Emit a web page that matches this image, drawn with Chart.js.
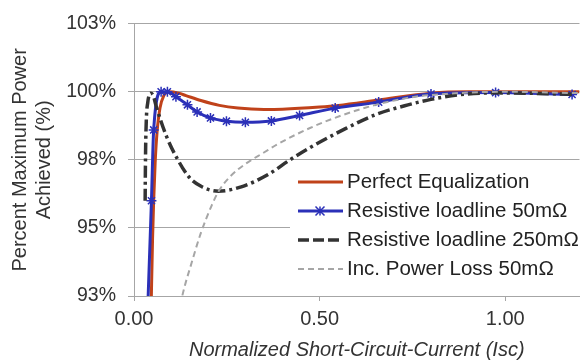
<!DOCTYPE html>
<html>
<head>
<meta charset="utf-8">
<script src="https://cdn.jsdelivr.net/npm/chart.js@4/dist/chart.umd.min.js"></script>
<style>
  html, body { margin: 0; padding: 0; background: #fff; }
  #wrap { width: 586px; height: 362px; }
</style>
</head>
<body>
<div id="wrap"><canvas id="myChart" width="586" height="362"></canvas></div>
<script>
// values (x = normalized Isc, y = percent of max power)
let perfectX = [0.046, 0.05, 0.053, 0.057, 0.062, 0.07, 0.08, 0.095, 0.12, 0.14, 0.18, 0.23, 0.28, 0.35, 0.40, 0.50, 0.55, 0.66, 0.80, 0.90, 1.00, 1.20];
let perfectY = [92.0, 94.6, 96.0, 97.4, 98.5, 99.4, 99.85, 100.0, 99.95, 99.86, 99.68, 99.5, 99.4, 99.35, 99.36, 99.44, 99.5, 99.7, 99.95, 100.0, 100.0, 100.0];

let r50X = [0.033, 0.047, 0.053, 0.073, 0.09, 0.113, 0.144, 0.17, 0.206, 0.249, 0.30, 0.37, 0.446, 0.542, 0.659, 0.80, 0.974, 1.18];
let r50Y = [90.5, 96.0, 98.6, 100.0, 100.0, 99.82, 99.52, 99.26, 99.04, 98.92, 98.88, 98.93, 99.13, 99.40, 99.62, 99.92, 99.97, 99.9];

let r250X = [0.030, 0.031, 0.033, 0.037, 0.045, 0.052, 0.06, 0.087, 0.117, 0.148, 0.183, 0.228, 0.289, 0.36, 0.42, 0.474, 0.563, 0.651, 0.738, 0.80, 0.87, 0.974, 1.18];
let r250Y = [96.0, 97.6, 98.9, 99.6, 99.95, 99.85, 99.46, 98.38, 97.53, 96.87, 96.51, 96.35, 96.51, 96.95, 97.5, 97.95, 98.6, 99.16, 99.52, 99.72, 99.88, 99.96, 99.91];

let lossX = [0.12, 0.13, 0.157, 0.179, 0.21, 0.228, 0.26, 0.30, 0.35, 0.386, 0.474, 0.563, 0.651, 0.757, 0.80, 0.90, 1.0, 1.2];
let lossY = [91.8, 92.5, 93.8, 94.77, 95.85, 96.35, 96.9, 97.35, 97.77, 98.07, 98.67, 99.15, 99.52, 99.82, 99.88, 99.97, 100.0, 99.95];

let xTicks = [0, 0.5, 1.0];
let yTicks = [92.5, 95, 97.5, 100, 102.5];

let seriesLabels = ['Perfect Equalization', 'Resistive loadline 50m\u03A9', 'Resistive loadline 250m\u03A9', 'Inc. Power Loss 50m\u03A9'];

const FONT = '"Liberation Sans", Arial, sans-serif';

function pts(xs, ys) {
    return xs.map((x, i) => ({ x: x, y: ys[i] }));
}

let ctx = document.getElementById('myChart');

// legend drawn inside the plot, like the original
const legendBox = {
    id: 'legendBox',
    afterDraw(chart) {
        const c = chart.ctx;
        c.save();
        c.fillStyle = '#fff';
        c.fillRect(290, 167, 296, 117);
        c.font = '20.5px ' + FONT;
        c.textBaseline = 'middle';
        c.textAlign = 'left';
        chart.data.datasets.forEach((ds, i) => {
            let y = 182 + i * 29;
            c.strokeStyle = ds.borderColor;
            c.lineWidth = ds.borderWidth;
            c.setLineDash(ds.legendDash || ds.borderDash || []);
            c.beginPath();
            c.moveTo(298, y);
            c.lineTo(343, y);
            c.stroke();
            c.setLineDash([]);
            if (ds.pointRadius > 0) {
                let r = 4.5, mx = 320;
                c.lineWidth = 1.5;
                c.beginPath();
                c.moveTo(mx - r, y - r); c.lineTo(mx + r, y + r);
                c.moveTo(mx - r, y + r); c.lineTo(mx + r, y - r);
                c.moveTo(mx, y - r); c.lineTo(mx, y + r);
                c.stroke();
            }
            c.fillStyle = '#222';
            c.fillText(ds.label, 347, y);
        });
        c.restore();
    }
};

const myChart = new Chart(ctx, {
    type: 'line',
    data: {
        datasets: [
            {
                label: seriesLabels[0],
                data: pts(perfectX, perfectY),
                borderColor: '#C0421A',
                borderWidth: 3,
                pointRadius: 0,
                cubicInterpolationMode: 'monotone',
                order: 4
            },
            {
                label: seriesLabels[1],
                data: pts(r50X, r50Y),
                borderColor: '#2B30B8',
                borderWidth: 3,
                pointStyle: 'star',
                pointRadius: 5,
                pointBorderWidth: 1.5,
                pointBorderColor: '#2B30B8',
                cubicInterpolationMode: 'monotone',
                order: 3
            },
            {
                label: seriesLabels[2],
                data: pts(r250X, r250Y),
                borderColor: '#333333',
                borderWidth: 3.5,
                borderDash: [12, 4, 3, 4],
                legendDash: [11, 4],
                pointRadius: 0,
                cubicInterpolationMode: 'monotone',
                order: 2
            },
            {
                label: seriesLabels[3],
                data: pts(lossX, lossY),
                borderColor: '#A6A6A6',
                borderWidth: 2,
                borderDash: [6, 4],
                pointRadius: 0,
                cubicInterpolationMode: 'monotone',
                order: 1
            }
        ]
    },
    options: {
        responsive: false,
        animation: false,
        layout: { padding: { top: 19, right: 0, bottom: 0, left: 0 } },
        plugins: {
            legend: { display: false },
            tooltip: { enabled: false }
        },
        scales: {
            x: {
                type: 'linear',
                min: 0,
                max: 1.2,
                afterBuildTicks: (s) => { s.ticks = xTicks.map(v => ({ value: v })); },
                afterFit: (s) => { s.height = 66; },
                grid: { drawOnChartArea: false, drawTicks: true, tickLength: 5, color: '#A6A6A6' },
                border: { display: true, color: '#A6A6A6' },
                ticks: {
                    padding: 6,
                    color: '#333',
                    font: { family: FONT, size: 20 },
                    callback: (v) => Number(v).toFixed(2)
                },
                title: {
                    display: true,
                    text: 'Normalized Short-Circuit-Current (Isc)',
                    color: '#333',
                    font: { family: FONT, size: 20, style: 'italic' },
                    padding: { top: 0, bottom: 0 }
                }
            },
            y: {
                min: 92.5,
                max: 102.5,
                afterBuildTicks: (s) => { s.ticks = yTicks.map(v => ({ value: v })); },
                afterFit: (s) => { s.width = 134; },
                grid: { drawOnChartArea: true, drawTicks: true, tickLength: 6, color: '#A6A6A6' },
                border: { display: true, color: '#A6A6A6' },
                ticks: {
                    padding: 12,
                    color: '#333',
                    font: { family: FONT, size: 19.5 },
                    callback: (v) => Math.round(v + 1e-9) + '%'
                },
                title: {
                    display: true,
                    text: ['Percent Maximum Power', 'Achieved (%)'],
                    color: '#333',
                    font: { family: FONT, size: 20 },
                    padding: { top: 8, bottom: 0 }
                }
            }
        }
    },
    plugins: [legendBox]
});
</script>
</body>
</html>
